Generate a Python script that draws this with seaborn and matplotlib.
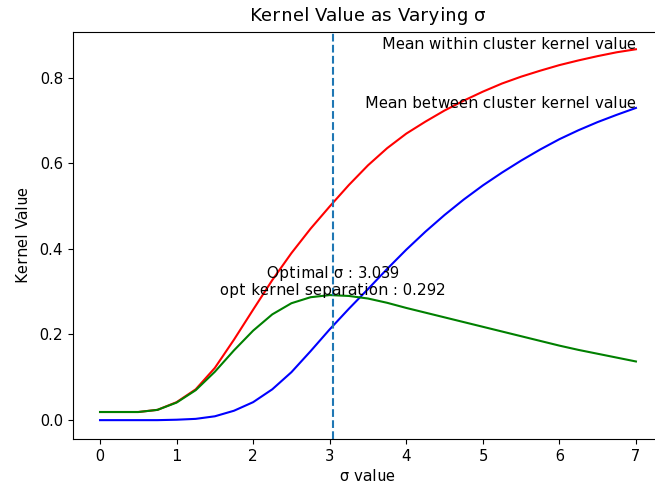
import matplotlib
matplotlib.use("Agg")
import matplotlib.pyplot as plt
import seaborn as sns

# hinting like older matplotlib, text comes out wider
plt.rcParams['text.hinting'] = 'auto'
plt.rcParams['text.hinting_factor'] = 1
plt.rcParams['font.size'] = 11

# sigma grid and kernel values
sigma = [0.0, 0.25, 0.5, 0.75, 1.0, 1.25, 1.5, 1.75, 2.0, 2.25, 2.5, 2.75,
         3.0, 3.25, 3.5, 3.75, 4.0, 4.25, 4.5, 4.75, 5.0, 5.25, 5.5, 5.75,
         6.0, 6.25, 6.5, 6.75, 7.0]

within = [0.019, 0.019, 0.019, 0.024, 0.042, 0.072, 0.122, 0.188, 0.258, 0.327,
          0.39, 0.447, 0.499, 0.549, 0.595, 0.635, 0.669, 0.697, 0.723, 0.746,
          0.767, 0.786, 0.802, 0.816, 0.829, 0.84, 0.85, 0.859, 0.866]

between = [0.0, 0.0, 0.0, 0.0, 0.001, 0.003, 0.009, 0.022, 0.042, 0.072,
           0.112, 0.161, 0.212, 0.26, 0.306, 0.353, 0.398, 0.44, 0.479, 0.515,
           0.548, 0.578, 0.606, 0.632, 0.656, 0.677, 0.696, 0.713, 0.729]

separation = [0.019, 0.019, 0.019, 0.024, 0.041, 0.07, 0.113, 0.163, 0.209, 0.247,
              0.273, 0.287, 0.292, 0.29, 0.284, 0.274, 0.262, 0.251, 0.24, 0.229,
              0.218, 0.207, 0.196, 0.185, 0.174, 0.164, 0.155, 0.146, 0.137]

opt_sigma = 3.039
opt_sep = 0.292

fig = plt.figure(figsize=(6.55, 4.9), dpi=100)
ax = fig.add_axes([0.1118, 0.1041, 0.900, 0.8312])

sns.lineplot(x=sigma, y=within, color='r', ax=ax)
sns.lineplot(x=sigma, y=between, color='b', ax=ax)
sns.lineplot(x=sigma, y=separation, color='g', ax=ax)
ax.axvline(opt_sigma, linestyle='--', color='#1f77b4')

ax.text(sigma[-1], within[-1], 'Mean within cluster kernel value', ha='right')
ax.text(sigma[-1], between[-1], 'Mean between cluster kernel value', ha='right')
ax.text(opt_sigma, opt_sep,
        'Optimal σ : {:.3f}\nopt kernel separation : {:.3f}'.format(opt_sigma, opt_sep),
        ha='center', multialignment='center')

ax.set_xlim(-0.35, 7.35)
ax.set_ylim(-0.044, 0.907)
ax.set_title('Kernel Value as Varying σ', fontsize=13, pad=8)
ax.set_xlabel('σ value')
ax.set_ylabel('Kernel Value', labelpad=6)

fig.savefig('out.png', dpi=100)
